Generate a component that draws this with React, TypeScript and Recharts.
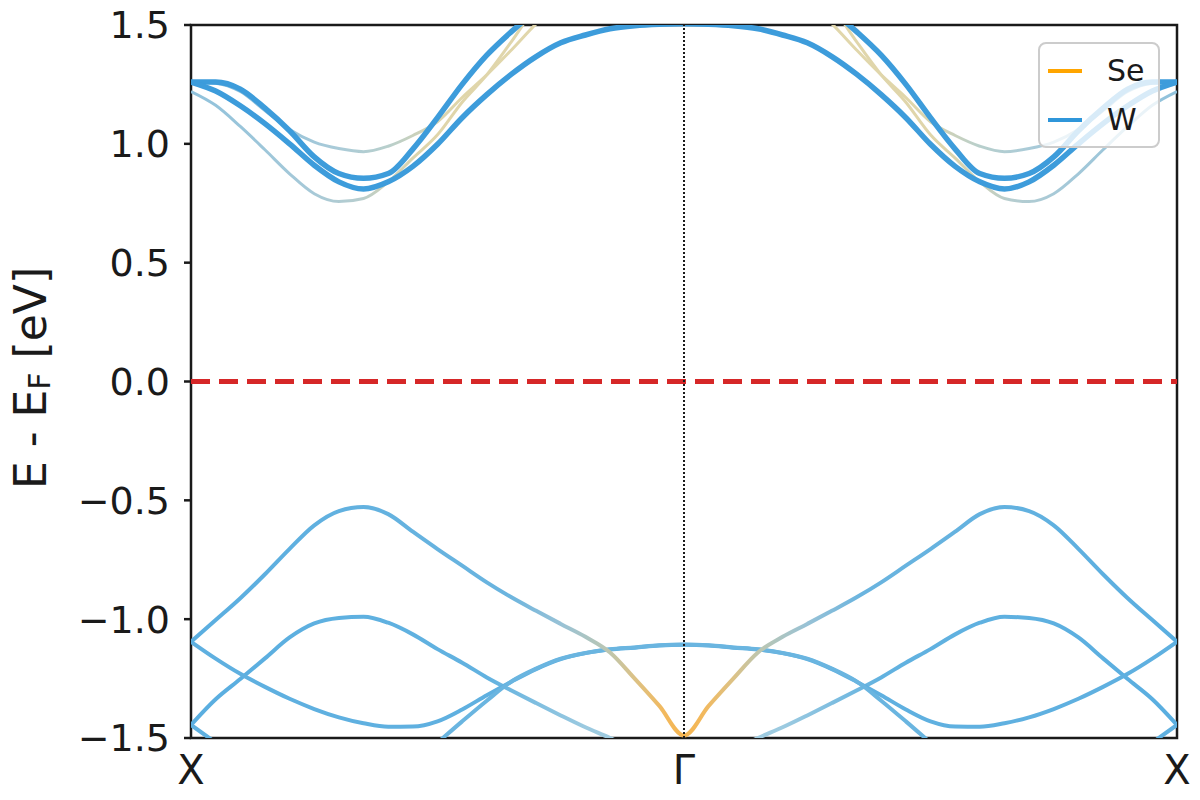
import React from "react";
import {
  LineChart,
  Line,
  XAxis,
  YAxis,
  ReferenceLine,
  ReferenceArea,
  Legend,
} from "recharts";

const FONT = "'DejaVu Sans', sans-serif";
const INK = "#1a1a1a";
const W_BLUE = "#2f96da";
const SE_ORANGE = "#ffa500";

// k along X -> Γ (0..1). The Γ -> X half repeats these bands mirrored.
const K_HALF = [0, 0.05, 0.1, 0.15, 0.2, 0.25, 0.3, 0.35, 0.4, 0.45, 0.5, 0.55, 0.6, 0.65, 0.7, 0.75, 0.8, 0.85, 0.9, 0.95, 1];

// conduction bands (eV)
const C1 = [1.26, 1.26, 1.23, 1.15, 1.055, 0.945, 0.875, 0.855, 0.875, 0.978, 1.11, 1.25, 1.373, 1.472, 1.56, 1.64, 1.71, 1.77, 1.81, 1.83, 1.84];
const C2 = [1.26, 1.222, 1.16, 1.085, 1.0, 0.91, 0.84, 0.81, 0.84, 0.905, 0.998, 1.11, 1.207, 1.293, 1.367, 1.425, 1.458, 1.484, 1.497, 1.503, 1.505];
const T1 = [1.26, 1.255, 1.22, 1.14, 1.06, 1.007, 0.98, 0.967, 0.99, 1.035, 1.093, 1.195, 1.29, 1.395, 1.505, 1.6, 1.69, 1.77, 1.83, 1.87, 1.88];
const T2 = [1.22, 1.162, 1.073, 0.975, 0.874, 0.79, 0.757, 0.77, 0.84, 0.94, 1.038, 1.175, 1.29, 1.43, 1.58, 1.7, 1.8, 1.87, 1.92, 1.95, 1.96];

// valence bands (eV)
const V1 = [-1.095, -1.004, -0.912, -0.811, -0.704, -0.605, -0.545, -0.528, -0.558, -0.632, -0.705, -0.775, -0.845, -0.908, -0.965, -1.02, -1.074, -1.14, -1.25, -1.365, -1.49];
const V2 = [-1.445, -1.337, -1.252, -1.165, -1.077, -1.018, -0.995, -0.99, -1.015, -1.064, -1.126, -1.183, -1.245, -1.3, -1.353, -1.405, -1.455, -1.5, -1.55, -1.6, -1.62];
const V3 = [-1.095, -1.166, -1.23, -1.285, -1.335, -1.378, -1.413, -1.438, -1.453, -1.452, -1.43, -1.38, -1.32, -1.263, -1.21, -1.168, -1.143, -1.128, -1.12, -1.111, -1.108];
const V4 = [null, null, null, null, null, null, null, null, null, -1.61, -1.52, -1.43, -1.343, -1.262, -1.208, -1.166, -1.142, -1.127, -1.119, -1.11, -1.107];
const V5 = [-1.445, -1.52, -1.6, null, null, null, null, null, null, null, null, null, null, null, null, null, null, null, null, null, null];

const X_TICKS = [0, 1, 2];
const X_LABELS = ["X", "Γ", "X"];
const Y_TICKS = [-1.5, -1, -0.5, 0, 0.5, 1, 1.5];
const LEGEND_NAMES = ["Se", "W"];
const LEGEND_COLORS = [SE_ORANGE, W_BLUE];

const SERIES: Record<string, (number | null)[]> = { t1: T1, t2: T2, c1: C1, c2: C2, v2: V2, v3: V3, v4: V4, v5: V5, v1: V1 };

const data = [
  ...K_HALF.map((k, i) => row(k, i)),
  ...K_HALF.slice(0, -1).map((k, i) => row(2 - k, i)).reverse(),
];

function row(k: number, i: number) {
  const r: Record<string, number | null> = { k };
  for (const key of Object.keys(SERIES)) r[key] = SERIES[key][i];
  return r;
}

// colour along the path (offset 0..0.5 = X..Γ, mirrored for the other half)
const GRADS: Record<string, [number, string][]> = {
  t1: [[0, "#6ab2de"], [0.06, "#8fc0db"], [0.15, "#aacbd8"], [0.2, "#b8cfcc"], [0.24, "#d2d2b4"], [0.27, "#e0d6aa"], [0.5, "#e3d8ae"]],
  t2: [[0, "#90c2dc"], [0.12, "#a6c9d8"], [0.17, "#b6cdcf"], [0.2, "#cfd1b6"], [0.24, "#dfd5aa"], [0.5, "#e3d8ae"]],
  v1: [[0, "#5aaee0"], [0.32, "#6ab4df"], [0.375, "#98c2d6"], [0.42, "#b9c6b4"], [0.45, "#dcc286"], [0.48, "#f2b95e"], [0.5, "#f5b550"]],
  v2: [[0, "#5aaee0"], [0.3, "#62b2e0"], [0.4, "#9ccae0"], [0.5, "#a8cfe0"]],
};

const STYLE: Record<string, { stroke: string; width: number }> = {
  t1: { stroke: "url(#g-t1)", width: 3 },
  t2: { stroke: "url(#g-t2)", width: 3 },
  c1: { stroke: "#3d9cdb", width: 5.5 },
  c2: { stroke: "#3d9cdb", width: 5.5 },
  v2: { stroke: "url(#g-v2)", width: 4 },
  v3: { stroke: "#5fb0e0", width: 4 },
  v4: { stroke: "#6ab5e0", width: 4 },
  v5: { stroke: "#5fb0e0", width: 4 },
  v1: { stroke: "url(#g-v1)", width: 4 },
};

const fmtY = (v: number) => v.toFixed(1).replace("-", "\u2212");

function LegendBox() {
  return (
    <div
      style={{
        boxSizing: "border-box",
        width: 122,
        height: 106,
        paddingTop: 2,
        border: "2px solid #cccccc",
        borderRadius: 8,
        background: "rgba(255,255,255,0.8)",
        fontFamily: FONT,
        fontSize: 30,
        color: INK,
      }}
    >
      {LEGEND_NAMES.map((name, i) => (
        <div key={name} style={{ height: 49, display: "flex", alignItems: "center" }}>
          <div style={{ width: 34, height: 4, marginLeft: 8, background: LEGEND_COLORS[i] }} />
          <span style={{ marginLeft: 25, lineHeight: 1 }}>{name}</span>
        </div>
      ))}
    </div>
  );
}

function YLabel() {
  return (
    <text
      x={30}
      y={378}
      transform="rotate(-90 30 378)"
      textAnchor="middle"
      dominantBaseline="central"
      fontFamily={FONT}
      fontSize={44}
      fill={INK}
    >
      E - E
      <tspan fontSize={30} dy={9}>F</tspan>
      <tspan dy={-9}> [eV]</tspan>
    </text>
  );
}

export default function App() {
  return (
    <div style={{ position: "absolute", left: 0, top: 0, width: 1200, height: 800, background: "#fff" }}>
      <LineChart width={1200} height={800} data={data} margin={{ top: 25, right: 23, bottom: 0, left: 0 }}>
        <defs>
          {Object.keys(GRADS).map((key) => {
            const half = GRADS[key];
            const stops = [...half, ...half.slice().reverse().map(([o, c]) => [1 - o, c] as [number, string])];
            return (
              <linearGradient key={key} id={`g-${key}`} x1="0" y1="0" x2="1" y2="0">
                {stops.map(([o, c], i) => (
                  <stop key={i} offset={o} stopColor={c} />
                ))}
              </linearGradient>
            );
          })}
        </defs>
        <XAxis
          type="number"
          dataKey="k"
          domain={[0, 2]}
          ticks={X_TICKS}
          tickFormatter={(v: number) => X_LABELS[X_TICKS.indexOf(v)]}
          allowDataOverflow
          axisLine={false}
          tickLine={false}
          tickMargin={12}
          height={62}
          tick={{ fill: INK, fontSize: 40, fontFamily: FONT }}
        />
        <YAxis
          type="number"
          domain={[-1.5, 1.5]}
          ticks={Y_TICKS}
          tickFormatter={fmtY}
          allowDataOverflow
          axisLine={false}
          tickLine={{ stroke: INK, strokeWidth: 2.5 }}
          tickSize={7}
          tickMargin={14}
          width={191}
          interval={0}
          tick={{ fill: INK, fontSize: 38, fontFamily: FONT }}
          label={{ content: () => <YLabel /> }}
        />
        {Object.keys(SERIES).map((key) => (
          <Line
            key={key}
            dataKey={key}
            type="monotone"
            stroke={STYLE[key].stroke}
            strokeWidth={STYLE[key].width}
            dot={false}
            activeDot={false}
            isAnimationActive={false}
          />
        ))}
        <ReferenceLine y={0} stroke="#d62728" strokeWidth={5} strokeDasharray="19 9" />
        <ReferenceLine x={1} stroke={INK} strokeWidth={2} strokeDasharray="2 2" />
        <ReferenceArea x1={0} x2={2} y1={-1.5} y2={1.5} fill="none" stroke={INK} strokeWidth={2.5} />
        <Legend
          layout="vertical"
          align="center"
          verticalAlign="middle"
          wrapperStyle={{ top: 42, left: 1038 }}
          content={() => <LegendBox />}
        />
      </LineChart>
    </div>
  );
}
